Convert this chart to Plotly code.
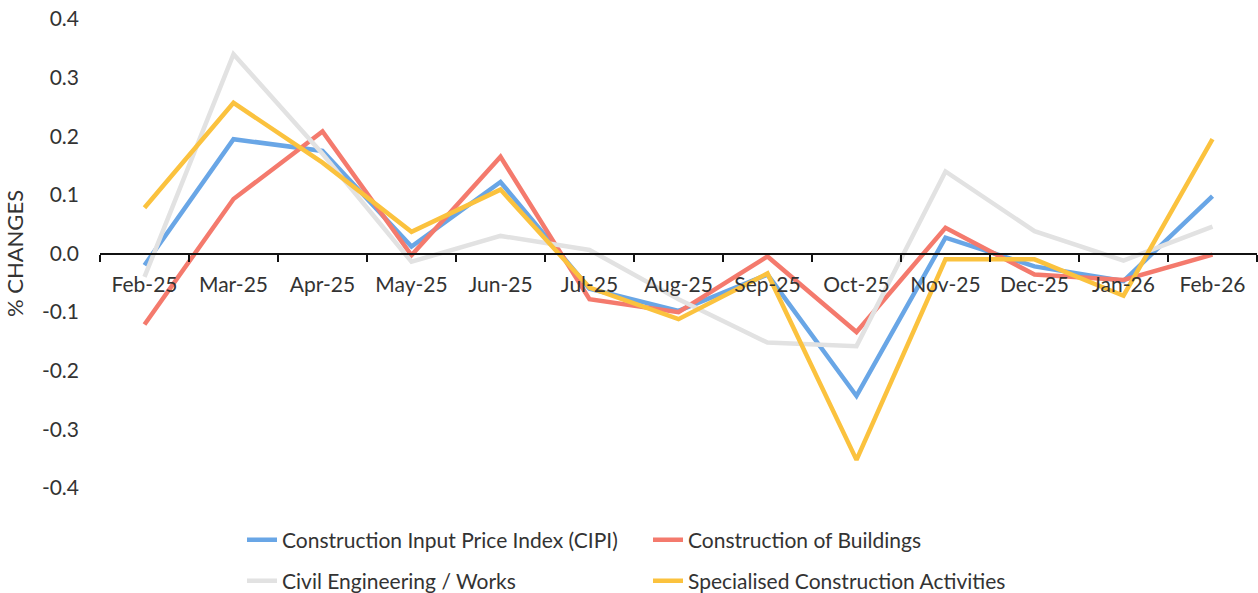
import plotly.graph_objects as go

months = ['Feb-25', 'Mar-25', 'Apr-25', 'May-25', 'Jun-25', 'Jul-25', 'Aug-25',
          'Sep-25', 'Oct-25', 'Nov-25', 'Dec-25', 'Jan-26', 'Feb-26']
cipi = [-0.02, 0.195, 0.175, 0.012, 0.122, -0.06, -0.098, -0.036, -0.243, 0.027, -0.022, -0.047, 0.098]
buildings = [-0.121, 0.093, 0.208, -0.003, 0.165, -0.078, -0.1, -0.005, -0.134, 0.044, -0.036, -0.045, -0.002]
civil = [-0.04, 0.34, 0.17, -0.014, 0.03, 0.006, -0.078, -0.152, -0.158, 0.14, 0.038, -0.012, 0.046]
specialised = [0.078, 0.257, 0.155, 0.037, 0.109, -0.058, -0.112, -0.034, -0.352, -0.01, -0.01, -0.072, 0.195]

series_names = ['Construction Input Price Index (CIPI)', 'Construction of Buildings',
                'Civil Engineering / Works', 'Specialised Construction Activities']
y_tick_vals = [-0.4, -0.3, -0.2, -0.1, 0.0, 0.1, 0.2, 0.3, 0.4]
y_tick_labels = ['-0.4', '-0.3', '-0.2', '-0.1', '0.0', '0.1', '0.2', '0.3', '0.4']

colors = ['#69A6E6', '#F47A6D', '#E2E2E2', '#FBC23E']
FONT = 'Lato, Open Sans, sans-serif'
TXT = '#333333'
FS = 21

fig = go.Figure()
legend_ids = ['legend', 'legend2', 'legend3', 'legend4']
for name, vals, col, lg in zip(series_names, [cipi, buildings, civil, specialised], colors, legend_ids):
    fig.add_trace(go.Scatter(x=months, y=vals, mode='lines', name=name,
                             line=dict(color=col, width=4.5), legend=lg))

W, H = 1258, 593
L, R, T, B = 100, 1, 19, 105
pw, ph = W - L - R, H - T - B

def px_x(x):
    return (x - L) / pw

def px_y(y):
    return (H - B - y) / ph

leg_common = dict(xanchor='left', yanchor='middle', bgcolor='rgba(0,0,0,0)',
                  font=dict(family=FONT, size=FS, color=TXT), borderwidth=0,
                  itemwidth=30)
fig.update_layout(
    width=W, height=H, showlegend=True,
    margin=dict(l=L, r=R, t=T, b=B, autoexpand=False),
    paper_bgcolor='white', plot_bgcolor='white',
    font=dict(family=FONT, size=FS, color=TXT),
    legend=dict(x=px_x(242), y=px_y(540), **leg_common),
    legend2=dict(x=px_x(648), y=px_y(540), **leg_common),
    legend3=dict(x=px_x(242), y=px_y(581), **leg_common),
    legend4=dict(x=px_x(648), y=px_y(581), **leg_common),
    xaxis=dict(type='category', range=[-0.5, len(months) - 0.5],
               anchor='free', position=0.5,
               showline=True, linecolor='#111111', linewidth=2,
               ticks='outside', tickson='boundaries', ticklen=7, tickwidth=2,
               tickcolor='#111111', showgrid=False, zeroline=False,
               ticklabelstandoff=12,
               tickfont=dict(family=FONT, size=FS, color=TXT)),
    yaxis=dict(range=[-0.4, 0.4], tickvals=y_tick_vals, ticktext=y_tick_labels,
               showgrid=False, zeroline=False, showline=False,
               ticklabelstandoff=20,
               tickfont=dict(family=FONT, size=FS, color=TXT),
               title=dict(text='% CHANGES', standoff=12,
                          font=dict(family=FONT, size=22, color=TXT))),
)

fig.write_html('out.html', config={'displayModeBar': False},
               post_script="document.body.style.margin='0';document.body.style.overflow='hidden';")
